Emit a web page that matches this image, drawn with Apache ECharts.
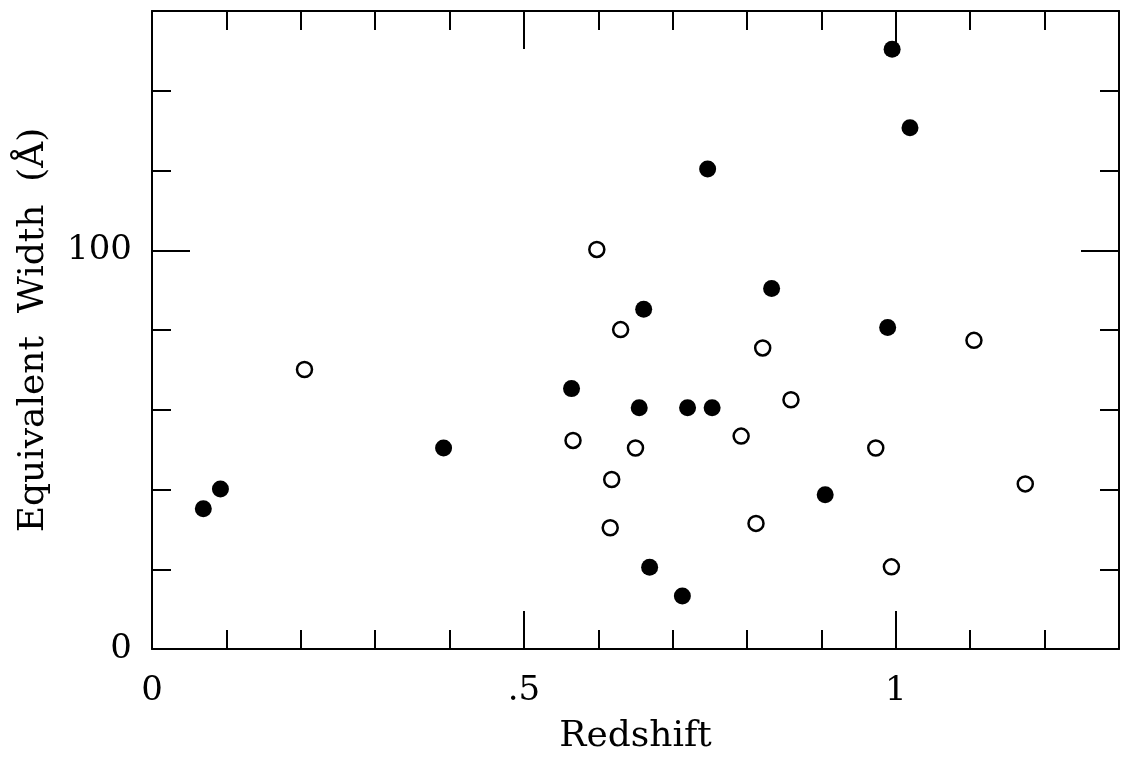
<!DOCTYPE html>
<html>
<head>
<meta charset="utf-8">
<script src="https://cdn.jsdelivr.net/npm/echarts@6/dist/echarts.min.js"></script>
<style>
html,body{margin:0;padding:0;background:#fff;}
#chart{width:1122px;height:760px;}
</style>
</head>
<body>
<div id="chart"></div>
<script>
// Data
const filledZ = [0.069, 0.092, 0.392, 0.564, 0.655, 0.661, 0.669, 0.713, 0.720, 0.747, 0.753, 0.833, 0.905, 0.989, 0.995, 1.019];
const filledW = [35.2, 40.1, 50.4, 65.3, 60.5, 85.2, 20.5, 13.3, 60.5, 120.4, 60.5, 90.4, 38.7, 80.6, 150.4, 130.7];
const openZ = [0.205, 0.566, 0.598, 0.616, 0.618, 0.630, 0.650, 0.792, 0.812, 0.821, 0.859, 0.973, 0.994, 1.105, 1.174];
const openW = [70.1, 52.3, 100.2, 30.4, 42.5, 80.1, 50.4, 53.4, 31.5, 75.5, 62.5, 50.4, 20.6, 77.4, 41.4];

const xTickValues = [0, 0.5, 1];
const xTickLabels = ['0', '.5', '1'];
const yTickValues = [0, 100];
const yTickLabels = ['0', '100'];

const xTitle = 'Redshift';
const yTitle = 'Equivalent  Width  (Å)';

const FONT = 'DejaVu Serif';
const INK = '#000';

function labelFor(values, labels) {
  return function (v) {
    for (let i = 0; i < values.length; i++) {
      if (Math.abs(v - values[i]) < 1e-6) return labels[i];
    }
    return '';
  };
}

const xMin = 0, xMax = 1.3, yMin = 0, yMax = 160;

function xAx(pos, interval, len, showLine, labels, name) {
  return {
    type: 'value', position: pos, min: xMin, max: xMax, interval: interval,
    axisLine: { show: showLine, onZero: false, lineStyle: { color: INK, width: 2 } },
    axisTick: { show: true, inside: true, length: len, lineStyle: { color: INK, width: 2 } },
    axisLabel: labels ? {
      show: true, margin: 25, color: INK, fontFamily: FONT, fontSize: 34,
      formatter: labelFor(xTickValues, xTickLabels)
    } : { show: false },
    splitLine: { show: false },
    name: name || '', nameLocation: 'middle', nameGap: 70,
    nameTextStyle: { color: INK, fontFamily: FONT, fontSize: 36 }
  };
}
function yAx(pos, interval, len, showLine, labels, name) {
  return {
    type: 'value', position: pos, min: yMin, max: yMax, interval: interval,
    axisLine: { show: showLine, onZero: false, lineStyle: { color: INK, width: 2 } },
    axisTick: { show: true, inside: true, length: len, lineStyle: { color: INK, width: 2 } },
    axisLabel: labels ? {
      show: true, margin: 20, color: INK, fontFamily: FONT, fontSize: 34,
      formatter: labelFor(yTickValues, yTickLabels)
    } : { show: false },
    splitLine: { show: false },
    name: name || '', nameLocation: 'middle', nameGap: 100,
    nameTextStyle: { color: INK, fontFamily: FONT, fontSize: 36 }
  };
}

const chart = echarts.init(document.getElementById('chart'), null, { renderer: 'canvas' });
chart.setOption({
  backgroundColor: '#fff',
  animation: false,
  grid: { left: 152, top: 11, right: 3, bottom: 101, containLabel: false },
  xAxis: [
    xAx('bottom', 0.1, 19, true, true, xTitle),
    xAx('bottom', 0.5, 38, false, false),
    xAx('top', 0.1, 19, true, false),
    xAx('top', 0.5, 38, false, false)
  ],
  yAxis: [
    yAx('left', 20, 19, true, true, yTitle),
    yAx('left', 100, 38, false, false),
    yAx('right', 20, 19, true, false),
    yAx('right', 100, 38, false, false)
  ],
  series: [
    {
      type: 'scatter', xAxisIndex: 0, yAxisIndex: 0,
      symbol: 'circle', symbolSize: 17,
      itemStyle: { color: INK, borderWidth: 0, opacity: 1 },
      data: filledZ.map((z, i) => [z, filledW[i]]),
      z: 3
    },
    {
      type: 'scatter', xAxisIndex: 0, yAxisIndex: 0,
      symbol: 'circle', symbolSize: 15,
      itemStyle: { color: '#fff', borderColor: INK, borderWidth: 2.5, opacity: 1 },
      data: openZ.map((z, i) => [z, openW[i]]),
      z: 3
    }
  ]
});
</script>
</body>
</html>
